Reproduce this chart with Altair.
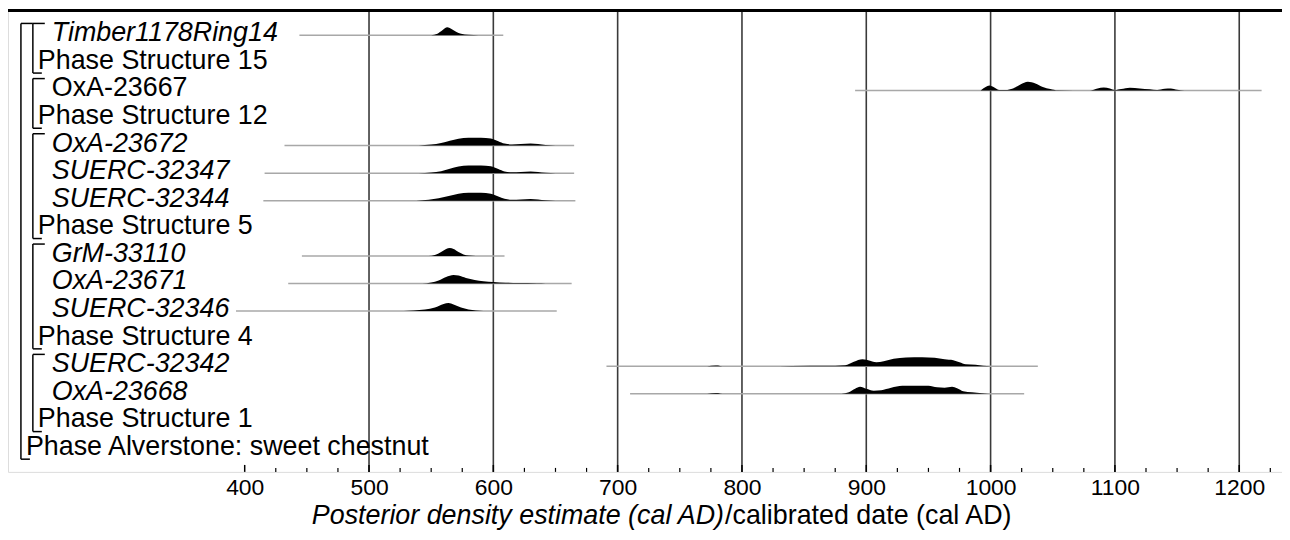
import altair as alt
import pandas as pd

FONT = "Liberation Sans"

# ---------------- data ----------------
row_labels = ["Timber1178Ring14", "Phase Structure 15", "OxA-23667", "Phase Structure 12",
              "OxA-23672", "SUERC-32347", "SUERC-32344", "Phase Structure 5",
              "GrM-33110", "OxA-23671", "SUERC-32346", "Phase Structure 4",
              "SUERC-32342", "OxA-23668", "Phase Structure 1", "Phase Alverstone: sweet chestnut"]
row_kind = ["date", "phase", "date", "phase", "date", "date", "date", "phase",
            "date", "date", "date", "phase", "date", "date", "phase", "outer"]
upright_dates = ["OxA-23667"]

# phase brackets: (first row, last row)
phase_first = [0, 2, 4, 8, 12]
phase_last = [1, 3, 7, 11, 14]
outer_first = [0]
outer_last = [15]

# calibrated (unmodelled) ranges, cal AD
date_names = ["Timber1178Ring14", "OxA-23667", "OxA-23672", "SUERC-32347", "SUERC-32344",
              "GrM-33110", "OxA-23671", "SUERC-32346", "SUERC-32342", "OxA-23668"]
range_start = [444, 891, 432, 416, 415, 446, 435, 393, 691, 710]
range_end = [608, 1218, 665, 665, 666, 609, 663, 651, 1038, 1027]

# posterior density (relative height)
dens_year = {
    "Timber1178Ring14": [550, 555, 559, 563, 566, 570, 574, 580, 588],
    "OxA-23667": [992, 996, 999, 1003, 1007, 1012, 1018, 1024, 1030, 1036, 1042, 1048, 1054, 1080,
                  1086, 1091, 1096, 1100, 1105, 1112, 1120, 1128, 1134, 1140, 1145, 1150, 1156],
    "OxA-23672": [540, 550, 558, 565, 572, 580, 590, 598, 604, 609, 615, 622, 630, 636, 642, 650],
    "SUERC-32347": [540, 550, 558, 565, 572, 580, 590, 598, 604, 609, 615, 622, 630, 636, 642, 650],
    "SUERC-32344": [538, 548, 556, 565, 572, 580, 590, 598, 604, 609, 615, 622, 630, 636, 642, 650],
    "GrM-33110": [548, 553, 558, 562, 565, 568, 572, 576, 580, 586],
    "OxA-23671": [543, 550, 556, 562, 568, 572, 578, 585, 592, 600, 610, 620, 635, 642],
    "SUERC-32346": [528, 536, 545, 553, 560, 564, 568, 574, 580, 586, 592],
    "SUERC-32342": [772, 779, 786, 820, 840, 870, 875, 883, 890, 897, 903, 908, 914, 922, 932,
                    945, 955, 963, 970, 975, 980, 988, 994, 1000],
    "OxA-23668": [772, 779, 786, 880, 886, 891, 895, 900, 906, 912, 920, 929, 940, 950, 957,
                  963, 969, 973, 978, 985, 993, 998],
}
dens_val = {
    "Timber1178Ring14": [0, 0.15, 0.5, 0.8, 0.65, 0.35, 0.15, 0.05, 0],
    "OxA-23667": [0, 0.35, 0.5, 0.3, 0.05, 0.05, 0.2, 0.6, 0.87, 0.7, 0.35, 0.15, 0.02, 0,
                  0.2, 0.3, 0.2, 0.05, 0.15, 0.28, 0.2, 0.12, 0.05, 0.18, 0.2, 0.08, 0],
    "OxA-23672": [0, 0.1, 0.25, 0.5, 0.7, 0.8, 0.8, 0.72, 0.45, 0.2, 0.12, 0.15, 0.22, 0.15, 0.05, 0],
    "SUERC-32347": [0, 0.08, 0.2, 0.45, 0.68, 0.78, 0.78, 0.7, 0.42, 0.18, 0.1, 0.12, 0.18, 0.12, 0.04, 0],
    "SUERC-32344": [0, 0.1, 0.25, 0.5, 0.7, 0.8, 0.8, 0.7, 0.42, 0.2, 0.1, 0.12, 0.18, 0.12, 0.04, 0],
    "GrM-33110": [0, 0.1, 0.4, 0.7, 0.8, 0.7, 0.4, 0.15, 0.05, 0],
    "OxA-23671": [0, 0.1, 0.3, 0.65, 0.85, 0.8, 0.55, 0.35, 0.22, 0.15, 0.08, 0.04, 0.02, 0],
    "SUERC-32346": [0, 0.05, 0.15, 0.35, 0.7, 0.8, 0.65, 0.35, 0.15, 0.05, 0],
    "SUERC-32342": [0, 0.08, 0, 0, 0.03, 0.05, 0.05, 0.1, 0.45, 0.7, 0.55, 0.4, 0.5, 0.75, 0.88,
                    0.9, 0.85, 0.7, 0.6, 0.4, 0.2, 0.15, 0.05, 0],
    "OxA-23668": [0, 0.08, 0, 0, 0.15, 0.5, 0.7, 0.5, 0.3, 0.35, 0.6, 0.8, 0.82, 0.8, 0.65,
                  0.6, 0.7, 0.55, 0.25, 0.15, 0.05, 0],
}

grid_years = [500, 600, 700, 800, 900, 1000, 1100, 1200]
label_years = [400, 500, 600, 700, 800, 900, 1000, 1100, 1200]
minor_years = [y for y in range(425, 1226, 25) if y % 100 != 0]

title_italic = "Posterior density estimate (cal AD)"
title_upright = "/calibrated date (cal AD)"

# ---------------- layout ----------------
W, H = 1281, 464
ROW_PX = 27.73
top_row = -25 / ROW_PX
bot_row = (H - 25) / ROW_PX
DENS_ROWS = 10 / ROW_PX  # density 1.0 == 10 px

xs = alt.Scale(domain=[209.6, 1234.4], nice=False, zero=False)
ys = alt.Scale(domain=[top_row, bot_row], reverse=True, nice=False, zero=False)
xaxis = alt.Axis(values=label_years, labelFontSize=23, labelFont=FONT, labelColor="black",
                 ticks=False, domain=False, grid=False, title=None, labelPadding=5,
                 labelFlush=False, format="d")

rows_df = pd.DataFrame({"label": row_labels, "row": list(range(len(row_labels))), "kind": row_kind})
rows_df["italic"] = (rows_df["kind"] == "date") & (~rows_df["label"].isin(upright_dates))
row_of = {l: i for i, l in enumerate(row_labels)}

prior_df = pd.DataFrame({"label": date_names, "start": range_start, "end": range_end})
prior_df["row"] = prior_df["label"].map(row_of)

recs = []
for name in date_names:
    for yr, d in zip(dens_year[name], dens_val[name]):
        recs.append({"label": name, "row": row_of[name], "year": yr, "dens": d})
dens_df = pd.DataFrame(recs)

grid_df = pd.DataFrame({"year": grid_years})
major_df = pd.DataFrame({"year": label_years})
minor_df = pd.DataFrame({"year": minor_years})
br_df = pd.DataFrame({"first": phase_first, "last": phase_last})
out_df = pd.DataFrame({"first": outer_first, "last": outer_last})

X = lambda f: alt.X(f, type="quantitative", scale=xs, axis=xaxis)
Y = lambda f: alt.Y(f, type="quantitative", scale=ys, axis=None)

grid = alt.Chart(grid_df).mark_rule(color="#3a3a3a", strokeWidth=1.6).encode(
    x=X("year"), y=alt.value(0), y2=alt.value(H))

prior = alt.Chart(prior_df).mark_rule(color="#a8a8a8", strokeWidth=1.5).encode(
    x=X("start"), x2="end", y=Y("row"))

dens = alt.Chart(dens_df).transform_calculate(
    top=f"datum.row - datum.dens * {DENS_ROWS}").mark_area(color="black", interpolate="monotone").encode(
    x=X("year"), y=Y("top"), y2="row", detail="label:N")

LABEL_FS = 27

def text_layer(kind, italic, xpx):
    d = rows_df[(rows_df["kind"] == kind) & (rows_df["italic"] == italic)]
    return alt.Chart(d).mark_text(align="left", baseline="middle", dy=-2, fontSize=LABEL_FS, font=FONT,
                                  fontStyle="italic" if italic else "normal", color="black").encode(
        x=alt.value(xpx), y=Y("row"), text="label:N")

texts = [text_layer("date", True, 44), text_layer("date", False, 44),
         text_layer("phase", False, 30), text_layer("outer", False, 18)]

TOP_OFF = 0.43
BOT_OFF = 0.37

def bracket(df, xv, top_len, bot_len):
    d = df.copy()
    base = alt.Chart(d).transform_calculate(
        ytop=f"datum.first - {TOP_OFF}", ybot=f"datum.last + {BOT_OFF}")
    v = base.mark_rule(color="black", strokeWidth=1.5).encode(
        x=alt.value(xv), y=Y("ytop"), y2="ybot")
    t = base.mark_rule(color="black", strokeWidth=1.5).encode(
        x=alt.value(xv), x2=alt.value(xv + top_len), y=Y("ytop"))
    b = base.mark_rule(color="black", strokeWidth=1.5).encode(
        x=alt.value(xv), x2=alt.value(xv + bot_len), y=Y("ybot"))
    return [v, t, b]

brackets = bracket(br_df, 25, 12, 9) + bracket(out_df, 13, 12, 9)

major = alt.Chart(major_df).mark_rule(color="black", strokeWidth=1.5).encode(
    x=X("year"), y=alt.value(H - 7), y2=alt.value(H))
minor = alt.Chart(minor_df).mark_rule(color="black", strokeWidth=1.2).encode(
    x=X("year"), y=alt.value(H - 4), y2=alt.value(H))

topline = alt.Chart(grid_df.head(1)).mark_rule(color="black", strokeWidth=3).encode(
    x=alt.value(0), x2=alt.value(W), y=alt.value(0))

TITLE_FS = 27
title_df = pd.DataFrame({"part": [title_italic, title_upright]})
t1 = alt.Chart(title_df.head(1)).mark_text(align="right", baseline="middle", fontSize=TITLE_FS, font=FONT,
                                          fontStyle="italic", color="black").encode(
    x=alt.value(720), y=alt.value(508), text="part:N")
t2 = alt.Chart(title_df.tail(1)).mark_text(align="left", baseline="middle", fontSize=TITLE_FS, font=FONT,
                                          color="black").encode(
    x=alt.value(721), y=alt.value(508), text="part:N")

chart = alt.layer(grid, prior, dens, *texts, *brackets, major, minor, topline, t1, t2).properties(
    width=W, height=H,
    autosize=alt.AutoSizeParams(type="none"),
    padding={"left": 0, "top": 1, "right": 0, "bottom": 60},
).configure_view(stroke="black", strokeWidth=2).configure(background="white")

chart.save("out.html", embed_options={"renderer": "svg", "actions": False})
